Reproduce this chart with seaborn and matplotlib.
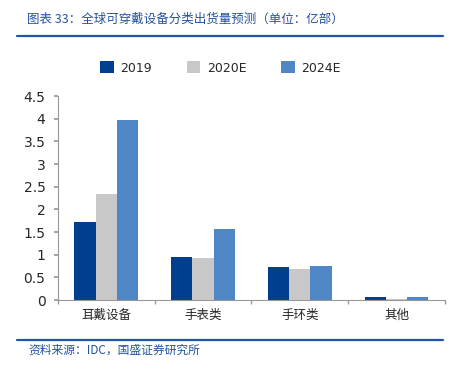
import pandas as pd
import numpy as np
import matplotlib.pyplot as plt
import seaborn as sns

# data
categories = ['耳戴设备', '手表类', '手环类', '其他']
years = ['2019', '2020E', '2024E']
vals_2019 = [1.73, 0.95, 0.72, 0.08]
vals_2020 = [2.35, 0.92, 0.69, 0.03]
vals_2024 = [3.97, 1.57, 0.75, 0.06]
colors = ['#003E8F', '#C8C8C8', '#4F86C6']

df = pd.DataFrame({
    'cat': categories * 3,
    'year': [y for y in years for _ in categories],
    'val': vals_2019 + vals_2020 + vals_2024,
})

sns.set_theme(style='white')
plt.rcParams['font.family'] = ['Noto Sans CJK SC', 'DejaVu Sans']

fig = plt.figure(figsize=(4.53, 3.71), dpi=100)
ax = fig.add_axes([0.128, 0.191, 0.854, 0.55])

sns.barplot(data=df, x='cat', y='val', hue='year', palette=colors,
            width=0.66, saturation=1, linewidth=0, ax=ax, legend=True)

ax.set_ylim(0, 4.5)
ax.set_xlim(-0.5, 3.5)
ax.set_yticks(np.arange(0, 4.51, 0.5))
ax.set_yticklabels(['0', '0.5', '1', '1.5', '2', '2.5', '3', '3.5', '4', '4.5'],
                   fontsize=10, family='DejaVu Sans')
ax.tick_params(axis='y', length=3, color='#999999', direction='out', left=True, pad=6)
ax.set_xticks(range(4))
ax.set_xticklabels(categories, fontsize=9)
ax.set_xticks(np.arange(-0.5, 3.6, 1), minor=True)
ax.tick_params(axis='x', which='major', length=0, pad=6)
ax.tick_params(axis='x', which='minor', length=3, color='#999999', direction='out', bottom=True)
ax.set_xlabel('')
ax.set_ylabel('')
for s in ['top', 'right']:
    ax.spines[s].set_visible(False)
for s in ['left', 'bottom']:
    ax.spines[s].set_color('#999999')
    ax.spines[s].set_linewidth(0.8)

ax.legend(loc='upper center', bbox_to_anchor=(0.42, 1.225), ncol=3, frameon=False,
          handlelength=1.1, handleheight=1.1, columnspacing=2.8,
          handletextpad=0.5, prop={'family': 'DejaVu Sans', 'size': 9})

# header and footer
fig.text(0.06, 0.948, '图表 33：全球可穿戴设备分类出货量预测（单位：亿部）',
         fontsize=9, color='#2452A0', style='italic', va='center')
fig.add_artist(plt.Line2D([0.038, 0.978], [0.903, 0.903], color='#1F56A8', lw=1.6))
fig.add_artist(plt.Line2D([0.038, 0.978], [0.083, 0.083], color='#1F56A8', lw=1.6))
fig.text(0.062, 0.056, '资料来源：IDC，国盛证券研究所', fontsize=8.5,
         color='#2452A0', style='italic', va='center')

fig.savefig('out.png', dpi=100)
